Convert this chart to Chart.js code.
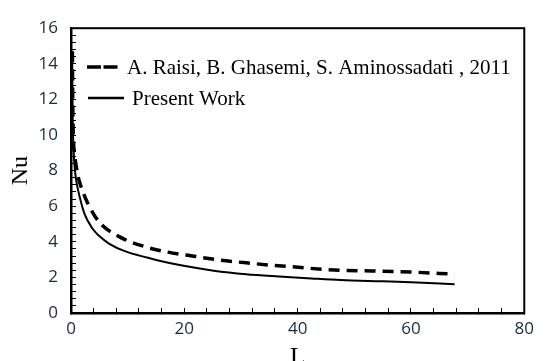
<!DOCTYPE html>
<html>
<head>
<meta charset="utf-8">
<script src="https://cdn.jsdelivr.net/npm/chart.js@4"></script>
<style>
  body { margin: 0; background: #fff; }
  #wrap { width: 545px; height: 361px; }
</style>
</head>
<body>
<div id="wrap"><canvas id="nuChart" width="545" height="361"></canvas></div>
<script>
// Present Work (solid)
const presentL = [0.2, 0.3, 0.45, 0.7, 1.0, 1.55, 2.4, 3.85, 5.0, 6.7, 9.6, 13.6, 15.4, 19.4, 25.2, 30.9, 36.7, 42.4, 47.6, 55, 60, 67.7];
const presentNu = [14.5, 11.0, 9.2, 8.0, 7.3, 6.5, 5.55, 4.72, 4.32, 3.9, 3.46, 3.1, 2.95, 2.68, 2.38, 2.18, 2.05, 1.94, 1.85, 1.78, 1.73, 1.62];

// A. Raisi et al. 2011 (dashed)
const raisiL = [0.25, 0.3, 0.4, 0.6, 0.9, 1.3, 2.0, 2.9, 5.0, 8.5, 13.1, 17.1, 21.7, 26.3, 30.9, 35.5, 39.6, 44.2, 47.6, 53, 60, 67.7];
const raisiNu = [14.7, 12.0, 10.0, 9.0, 8.3, 7.6, 6.9, 6.2, 5.1, 4.29, 3.72, 3.42, 3.19, 2.97, 2.82, 2.68, 2.58, 2.46, 2.4, 2.36, 2.3, 2.18];

// Tick labels
const xTickLabels = [0, 20, 40, 60, 80];
const yTickLabels = [0, 2, 4, 6, 8, 10, 12, 14, 16];

const legendLabels = ['A. Raisi, B. Ghasemi, S. Aminossadati , 2011', 'Present Work'];

function toPoints(xs, ys) {
    return xs.map((x, i) => ({ x: x, y: ys[i] }));
}

const tickColor = '#1c2b3a';

// frame round the plot + legend drawn inside the plot area
const framePlugin = {
    id: 'frame',
    afterDraw(chart) {
        const ctx = chart.ctx;
        const a = chart.chartArea;
        ctx.save();
        ctx.strokeStyle = '#000';
        ctx.lineWidth = 2;
        ctx.strokeRect(a.left, a.top, a.right - a.left, a.bottom - a.top);

        // legend
        ctx.font = '21px "Liberation Serif"';
        ctx.fillStyle = '#000';
        ctx.textBaseline = 'middle';
        ctx.lineWidth = 3.5;
        ctx.setLineDash([14, 2.5]);
        ctx.beginPath();
        ctx.moveTo(87, 67);
        ctx.lineTo(118, 67);
        ctx.stroke();
        ctx.fillText(legendLabels[0], 127, 68);

        ctx.setLineDash([]);
        ctx.lineWidth = 2.5;
        ctx.beginPath();
        ctx.moveTo(88, 98);
        ctx.lineTo(124, 98);
        ctx.stroke();
        ctx.fillText(legendLabels[1], 132, 99);
        ctx.restore();
    }
};

const chart = new Chart(document.getElementById('nuChart'), {
    type: 'line',
    data: {
        datasets: [
            {
                label: legendLabels[0],
                data: toPoints(raisiL, raisiNu),
                borderColor: '#000',
                borderWidth: 3.5,
                borderDash: [11, 7],
                pointRadius: 0,
                cubicInterpolationMode: 'monotone',
                fill: false
            },
            {
                label: legendLabels[1],
                data: toPoints(presentL, presentNu),
                borderColor: '#000',
                borderWidth: 2,
                pointRadius: 0,
                cubicInterpolationMode: 'monotone',
                fill: false
            }
        ]
    },
    options: {
        responsive: false,
        animation: false,
        devicePixelRatio: 1,
        layout: { padding: { top: 22, right: 11, left: 0, bottom: 0 } },
        plugins: {
            legend: { display: false },
            tooltip: { enabled: false }
        },
        scales: {
            x: {
                type: 'linear',
                min: 0,
                max: 80,
                afterFit(scale) { scale.height = 48; },
                ticks: {
                    stepSize: 4,
                    autoSkip: false,
                    maxRotation: 0,
                    padding: 11,
                    color: tickColor,
                    font: { family: 'Open Sans', size: 17 },
                    callback: v => xTickLabels.includes(Math.round(v)) && Math.abs(v - Math.round(v)) < 1e-6 ? String(Math.round(v)) : ''
                },
                grid: {
                    drawOnChartArea: false,
                    color: '#000',
                    tickLength: -5,
                    lineWidth: 1
                },
                border: { color: '#000', width: 2.5 },
                title: {
                    display: true,
                    text: 'L',
                    color: '#000',
                    font: { family: 'Liberation Serif', size: 25, lineHeight: 1 },
                    padding: { top: 0, bottom: -10 }
                }
            },
            y: {
                min: 0,
                max: 16,
                afterFit(scale) { scale.width = 71; },
                ticks: {
                    stepSize: 0.4,
                    autoSkip: false,
                    padding: 18,
                    color: tickColor,
                    font: { family: 'Open Sans', size: 17 },
                    callback: v => {
                        const r = Math.round(v);
                        return Math.abs(v - r) < 1e-6 && yTickLabels.includes(r) ? String(r) : '';
                    }
                },
                grid: {
                    drawOnChartArea: false,
                    color: '#000',
                    tickLength: -5,
                    lineWidth: 1
                },
                border: { color: '#000', width: 2.5 },
                title: {
                    display: true,
                    text: 'Nu',
                    color: '#000',
                    font: { family: 'Liberation Serif', size: 24, lineHeight: 1.2 },
                    padding: { top: 6, bottom: 0 }
                }
            }
        }
    },
    plugins: [framePlugin]
});
</script>
</body>
</html>
